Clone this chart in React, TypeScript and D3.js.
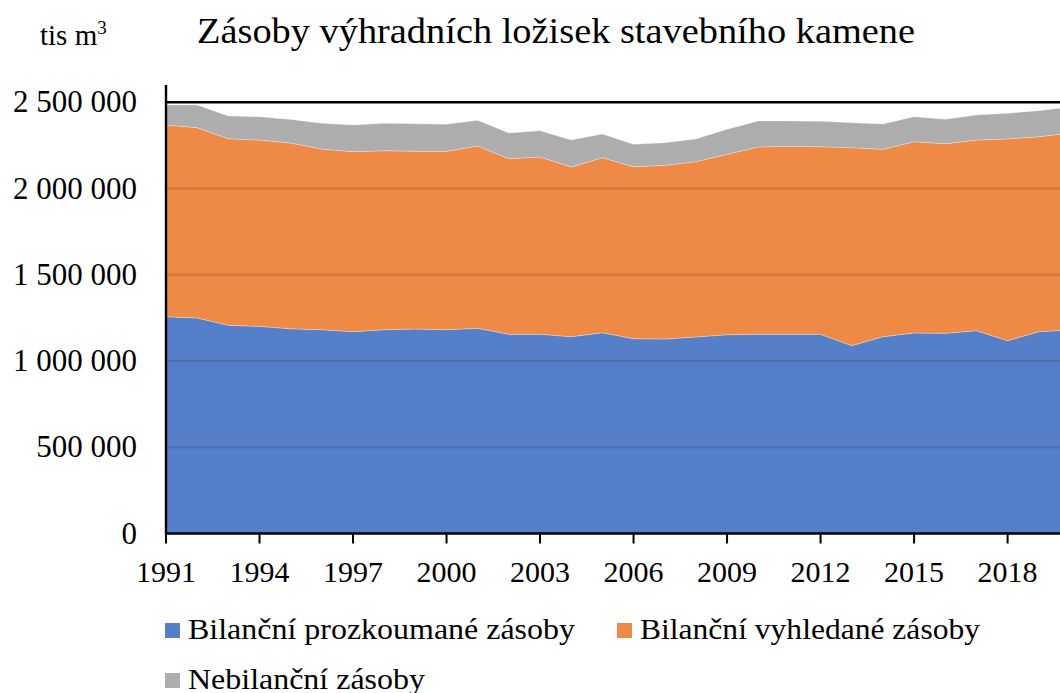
import React, {useEffect, useRef} from "react";
import * as d3 from "d3";

const years = d3.range(1991, 2021);

// tis m3
const prozkoumane = [1257000, 1249500, 1207000, 1201000, 1187000, 1181500, 1170000, 1181500, 1185500, 1181500,
    1189500, 1155000, 1155000, 1141000, 1164000, 1129500, 1127500, 1139500, 1152500, 1155000,
    1155000, 1155000, 1089000, 1141000, 1162500, 1160500, 1176000, 1118000, 1170000, 1180000];
const vyhledane = [1111500, 1103500, 1082000, 1080000, 1076500, 1047500, 1043500, 1038000, 1030500, 1034500,
    1057000, 1018000, 1028000, 984000, 1015000, 997000, 1007000, 1016500, 1046000, 1086000,
    1090000, 1087500, 1148000, 1086500, 1109000, 1099500, 1105500, 1169500, 1130500, 1142000];
const nebilancni = [116000, 131500, 131500, 135000, 137500, 149000, 155000, 159000, 160000, 156500,
    149000, 149000, 152500, 156500, 137500, 130000, 131000, 131500, 145000, 151000,
    146500, 147000, 145000, 146500, 145000, 141500, 145000, 149000, 151000, 150500];

const seriesNames = ["Bilanční prozkoumané zásoby", "Bilanční vyhledané zásoby", "Nebilanční zásoby"];
const colors = ["#5580c9", "#ef8a46", "#adadad"];
const yTicks = [0, 500000, 1000000, 1500000, 2000000, 2500000];
const xTicks = [1991, 1994, 1997, 2000, 2003, 2006, 2009, 2012, 2015, 2018];

const font = "'Liberation Serif', 'Times New Roman', serif";
const fmt = (v: number) => d3.format(",")(v).replace(/,/g, " ");

const App: React.FC = () => {
    const ref = useRef<SVGSVGElement | null>(null);

    useEffect(() => {
        if (!ref.current) return;
        const svg = d3.select(ref.current);
        svg.selectAll("*").remove();

        const left = 166, bottom = 533.5, top = 102.3;
        const x = d3.scaleLinear().domain([1991, 2020]).range([left, left + 29 * 31.17]);
        const y = d3.scaleLinear().domain([0, 2500000]).range([bottom, top]);

        const table = years.map((yr, i) => ({
            year: yr, a: prozkoumane[i], b: vyhledane[i], c: nebilancni[i]
        }));
        const stacked = d3.stack<any>().keys(["a", "b", "c"])(table);

        const area = d3.area<any>()
            .x(d => x(d.data.year))
            .y0(d => y(d[0]))
            .y1(d => y(d[1]));

        svg.append("g").selectAll("path")
            .data(stacked)
            .enter()
            .append("path")
            .attr("d", area as any)
            .attr("fill", (_d, i) => colors[i])
            .attr("stroke", "#ffffff")
            .attr("stroke-opacity", 0.35)
            .attr("stroke-width", 0.8);

        // gridlines, darker over the areas
        svg.append("g").selectAll("line")
            .data(yTicks.filter(t => t > 0 && t < 2500000))
            .enter()
            .append("line")
            .attr("x1", left).attr("x2", 1060)
            .attr("y1", d => y(d)).attr("y2", d => y(d))
            .attr("stroke", "#000").attr("stroke-opacity", 0.12).attr("stroke-width", 2.4);

        // top line
        svg.append("line")
            .attr("x1", left).attr("x2", 1060)
            .attr("y1", y(2500000)).attr("y2", y(2500000))
            .attr("stroke", "#000").attr("stroke-width", 2.4);

        // axes
        svg.append("line")
            .attr("x1", left).attr("x2", left)
            .attr("y1", 85).attr("y2", bottom + 1)
            .attr("stroke", "#000").attr("stroke-width", 2.4);
        svg.append("line")
            .attr("x1", left - 1).attr("x2", 1060)
            .attr("y1", bottom).attr("y2", bottom)
            .attr("stroke", "#000").attr("stroke-width", 2.4);

        svg.append("g").selectAll("line")
            .data(xTicks)
            .enter()
            .append("line")
            .attr("x1", d => x(d)).attr("x2", d => x(d))
            .attr("y1", bottom).attr("y2", bottom + 10)
            .attr("stroke", "#000").attr("stroke-width", 2);

        svg.append("g").selectAll("text")
            .data(xTicks)
            .enter()
            .append("text")
            .attr("x", d => x(d))
            .attr("y", 582)
            .attr("text-anchor", "middle")
            .style("font-family", font).style("font-size", "30px")
            .text(d => d);

        svg.append("g").selectAll("text")
            .data(yTicks)
            .enter()
            .append("text")
            .attr("x", 137)
            .attr("y", d => y(d) + 10)
            .attr("text-anchor", "end")
            .style("font-family", font).style("font-size", "31px")
            .text(d => fmt(d));

        // title + unit
        svg.append("text")
            .attr("x", 197).attr("y", 43)
            .attr("textLength", 718)
            .attr("lengthAdjust", "spacingAndGlyphs")
            .style("font-family", font).style("font-size", "35px")
            .text("Zásoby výhradních ložisek stavebního kamene");
        const unit = svg.append("text")
            .attr("x", 40).attr("y", 45)
            .style("font-family", font).style("font-size", "29px");
        unit.append("tspan").text("tis m");
        unit.append("tspan").attr("dy", -11).style("font-size", "19px").text("3");

        // legend
        const legendPos = [[165, 639], [617, 639], [165, 689]];
        const legendLen = [387, 340, 237];
        const lg = svg.append("g").selectAll("g")
            .data(seriesNames)
            .enter()
            .append("g")
            .attr("transform", (_d, i) => `translate(${legendPos[i][0]},${legendPos[i][1]})`);
        lg.append("rect")
            .attr("x", 0).attr("y", -16)
            .attr("width", 15).attr("height", 15)
            .attr("fill", (_d, i) => colors[i]);
        lg.append("text")
            .attr("x", 23).attr("y", 0)
            .attr("textLength", (_d, i) => legendLen[i])
            .attr("lengthAdjust", "spacingAndGlyphs")
            .style("font-family", font).style("font-size", "29px")
            .text(d => d);
    }, []);

    return (
        <svg ref={ref} width={1060} height={693}
             style={{position: "absolute", left: 0, top: 0, background: "#fff"}}/>
    );
};

export default App;
